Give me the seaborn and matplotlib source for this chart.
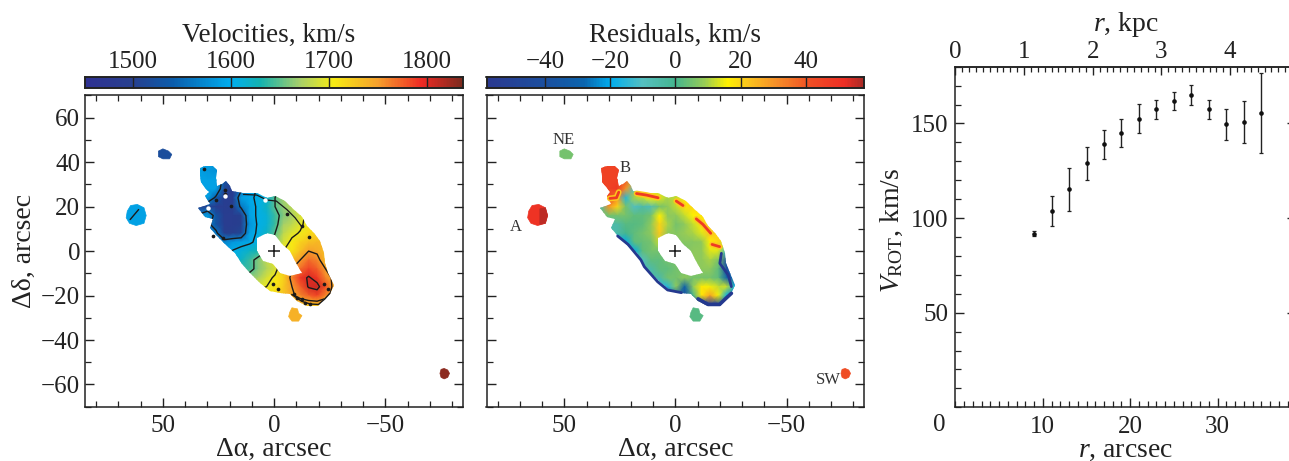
import numpy as np
import pandas as pd
import seaborn as sns
import matplotlib.pyplot as plt
from matplotlib.colors import LinearSegmentedColormap
from matplotlib.patches import PathPatch
from matplotlib.path import Path
from matplotlib.ticker import FixedLocator, MultipleLocator, NullFormatter
from matplotlib.transforms import Affine2D

# rotation curve
r_arcsec = [9, 11, 13, 15, 17, 19, 21, 23, 25, 27, 29, 31, 33, 35]
v_rot = [91.7, 103.7, 115.2, 129, 139, 144.8, 152.6, 157.5, 161.7, 165, 157.5, 149.6, 150.6, 155.4]
v_low = [90.4, 96, 103.7, 120, 131.2, 137.4, 144.8, 152.6, 157, 159.8, 152.6, 141.4, 139.5, 134.2]
v_high = [93, 111.5, 126.5, 137.6, 146.7, 152.4, 160.3, 162.4, 166.5, 170.2, 162.4, 157.7, 161.9, 176.5]

# grid nodes of the two maps, arcsec
grid_x = [37.5, 33.7, 29.9, 26.1, 22.3, 18.5, 14.8, 11, 7.2, 3.4, -0.4, -4.2, -8, -11.7, -15.5, -19.3, -23.1, -26.9]
grid_y = [40, 36, 32, 28, 24, 20, 16, 12, 8, 4, 0, -4, -8, -12, -16, -20, -24, -28]

velocity = [
    [1590, 1590, 1590, 1585, 1560, 1520, 1560, 1600, 1603, 1612, 1640, 1660, 1680, 1700, 1710, 1720, 1730, 1740],
    [1590, 1590, 1585, 1580, 1550, 1510, 1560, 1596, 1603, 1612, 1640, 1660, 1680, 1700, 1710, 1720, 1730, 1740],
    [1590, 1590, 1590, 1590, 1530, 1500, 1550, 1590, 1603, 1612, 1640, 1660, 1680, 1700, 1710, 1720, 1730, 1740],
    [1590, 1590, 1590, 1590, 1510, 1490, 1540, 1590, 1603, 1612, 1640, 1660, 1680, 1700, 1710, 1720, 1730, 1740],
    [1560, 1560, 1590, 1540, 1490, 1490, 1590, 1596, 1604, 1612, 1650, 1670, 1680, 1700, 1710, 1720, 1730, 1740],
    [1500, 1500, 1510, 1490, 1490, 1500, 1560, 1590, 1604, 1620, 1650, 1665, 1680, 1700, 1710, 1720, 1730, 1740],
    [1560, 1560, 1590, 1530, 1490, 1490, 1500, 1590, 1604, 1612, 1640, 1660, 1670, 1690, 1710, 1720, 1730, 1740],
    [1560, 1560, 1560, 1530, 1490, 1490, 1500, 1580, 1604, 1612, 1640, 1670, 1680, 1695, 1710, 1720, 1730, 1740],
    [1570, 1570, 1570, 1560, 1500, 1500, 1510, 1590, 1604, 1620, 1650, 1680, 1695, 1702, 1715, 1720, 1730, 1740],
    [1580, 1580, 1580, 1570, 1570, 1585, 1590, 1595, 1608, 1630, 1660, 1690, 1705, 1720, 1730, 1735, 1740, 1740],
    [1590, 1590, 1590, 1590, 1590, 1602, 1610, 1620, 1630, 1650, 1680, 1700, 1710, 1730, 1750, 1745, 1730, 1730],
    [1600, 1600, 1600, 1600, 1600, 1610, 1620, 1640, 1660, 1680, 1700, 1720, 1735, 1750, 1770, 1760, 1730, 1730],
    [1610, 1610, 1610, 1610, 1620, 1630, 1640, 1640, 1660, 1675, 1690, 1725, 1750, 1770, 1785, 1775, 1750, 1740],
    [1630, 1630, 1630, 1630, 1640, 1650, 1660, 1665, 1670, 1690, 1705, 1720, 1760, 1790, 1803, 1790, 1760, 1745],
    [1650, 1650, 1650, 1650, 1660, 1670, 1680, 1690, 1695, 1700, 1710, 1725, 1750, 1775, 1803, 1808, 1780, 1740],
    [1670, 1670, 1670, 1670, 1680, 1690, 1700, 1705, 1710, 1712, 1715, 1730, 1745, 1760, 1775, 1785, 1760, 1740],
    [1690, 1690, 1690, 1690, 1700, 1705, 1710, 1715, 1720, 1720, 1720, 1722, 1720, 1730, 1730, 1730, 1730, 1730],
    [1700, 1700, 1700, 1700, 1705, 1710, 1715, 1720, 1720, 1720, 1720, 1720, 1720, 1725, 1725, 1725, 1725, 1725],
]

residual = [
    [45, 45, 45, 45, 45, 10, 10, 10, 10, 10, 10, 10, 10, 10, 10, 10, 10, 10],
    [45, 45, 45, 45, 45, 15, 10, 10, 10, 10, 10, 10, 10, 10, 10, 10, 10, 10],
    [45, 45, 45, 45, 40, 15, 0, 10, 10, 10, 10, 10, 10, 10, 10, 10, 10, 10],
    [45, 45, 45, 48, 30, -10, 12, 12, 12, 12, 12, 12, 12, 12, 12, 12, 12, 12],
    [30, 30, 45, 30, -15, 10, 12, 16, 14, 10, 12, 18, 18, 18, 18, 18, 18, 18],
    [-5, -5, 30, 20, 5, -10, -5, -8, 5, 8, 12, 18, 20, 20, 20, 20, 20, 20],
    [5, 5, 5, 5, 5, 3, 3, 5, 16, 8, 8, 12, 16, 18, 20, 20, 20, 20],
    [-5, -5, -5, -5, 2, 2, 3, 8, 20, 10, 5, 8, 12, 17, 22, 22, 22, 22],
    [-5, -5, -5, -5, 0, 3, 5, 8, 22, 8, 7, 9, 10, 14, 22, 20, 20, 20],
    [-20, -20, -20, -20, -20, 3, 4, 5, 12, 7, 7, 7, 7, 8, 16, 20, 12, 12],
    [-20, -20, -20, -20, -20, -20, 3, 5, 5, 5, 5, 5, 8, 8, 14, 14, -15, -15],
    [-10, -10, -10, -10, -10, -10, -10, 3, 3, 5, 5, 5, 8, 8, 10, 6, -40, -40],
    [-5, -5, -5, -5, -5, -5, -5, -5, 3, 3, 5, 5, 8, 8, 8, 3, -40, -40],
    [-5, -5, -5, -5, -5, -5, -5, -5, -5, 5, 5, 8, 5, 5, 5, 3, -30, -30],
    [-15, -15, -15, -15, -15, -15, -15, -15, -15, -15, 8, -30, 8, 17, 15, 12, 12, -20],
    [-30, -30, -30, -30, -30, -30, -30, -30, -30, -30, -30, -40, 0, 18, 28, 15, -20, -30],
    [-45, -45, -45, -45, -45, -45, -45, -45, -45, -45, -45, -45, -45, -45, -50, -45, -45, -30],
    [-45, -45, -45, -45, -45, -45, -45, -45, -45, -45, -45, -45, -45, -45, -50, -45, -45, -45],
]

# traced outlines, arcsec
body_x = [33.2, 33.5, 31, 27.3, 25.5, 26.1, 25.5, 23.5, 21.6, 19.8, 19, 13.8, 7.8, 3.3, -0.4, -4.9, -7.9, -12.4,
          -14.7, -17.7, -20.7, -22.2, -22.9, -24.4, -27, -25.2, -22.2, -19.9, -14.7, -10.2, -7.2, -2.7, 1.8, 6.3,
          10.8, 14.5, 17.5, 21.3, 25.8, 28.8, 27.3, 31, 34, 28.8, 31, 29.5, 31, 33]
body_y = [34, 37.5, 38.5, 38.2, 36.4, 33, 29.2, 30, 31.5, 29.2, 27, 26.2, 26.2, 24, 24.7, 22.5, 19.5, 15.4,
          11.3, 8.3, 4.5, -0.7, -5.2, -9.7, -15.4, -19.5, -21.7, -24.7, -24.7, -22.5, -19.5, -18.7, -18, -14.2,
          -9.7, -6, -0.7, 2.3, 6.8, 10.5, 14.3, 15.4, 19.5, 21, 24.7, 26.5, 28.5, 31]
hole_x = [7.8, 3.3, -0.4, -3.4, -7.2, -9.4, -12.4, -7.2, -2.7, 0.3, 4.8, 7.8]
hole_y = [6, 8.3, 7.1, 3, 0, -4.5, -10, -11.2, -9.7, -6, -4.5, 0]

blob_a_x = [66, 64.5, 61.5, 58.5, 57.5, 58.5, 62, 65, 66.5]
blob_a_y = [18, 20.5, 21, 19.5, 16, 12.5, 11.5, 12.5, 15]
blob_a_dark_x = [61, 58.5, 57.5, 58.5, 61]
blob_a_dark_y = [19, 19.5, 16, 12.5, 12]
blob_ne_x = [52, 50, 47.5, 46, 47, 50, 52]
blob_ne_y = [45, 46, 45, 43.5, 41.5, 41.5, 42.5]
blob_low_x = [-8, -10.5, -11, -12.5, -11, -8, -6.5, -7]
blob_low_y = [-25.5, -26, -28, -29, -31.5, -31.5, -29.5, -27.5]
blob_sw_x = [-74.5, -75, -76.4, -78, -78.8, -78, -76.4, -75]
blob_sw_y = [-55, -53.2, -52.8, -53.5, -55, -56.8, -57.5, -56.8]

# values of the detached blobs: velocity map, residual map
blob_vel = [1590, 1520, 1740, 1830]
blob_res = [50, 5, 2, 42]
blob_a_dark_res = 56

# black specks along the rim of the velocity map
speck_x = [-22.2, -24.4, -16.2, -12.4, -8.7, -10.2, -13.9, -1.9, 0.3, -15.7, 22.8, 27.3, 19.5, 22, 22, 26, 31.7, -12.4, -5.7]
speck_y = [-15, -17.2, -24, -21.7, -19.5, -21, -23.2, -17.2, -15, 6.5, 6, 6.8, 20.5, 27.7, 25.5, 23.2, 37, 11.3, 16.9]
white_x = [4, 29.8, 22]
white_y = [23, 19.5, 25]

# ragged black contour pieces on the rim of the velocity map
edge_low_x = [-7.9, -12.4, -16.2, -19.9, -22.8, -25]
edge_low_y = [-19.5, -22.6, -23.8, -24, -21.5, -19]
edge_top_x = [13.8, 7.8, 3.3, -1, -5.7, -9.4, -12.4]
edge_top_y = [25.5, 25.2, 23, 22.5, 18.7, 15, 11]

# dark blue rims of the residual map
rim_sw_x = [26, 21.3, 15.5, 14, 8, 3.5, -2.7]
rim_sw_y = [6.8, 3, -4, -7, -13.8, -17.5, -18.7]
rim_se_x = [-20.7, -20, -23.8, -25.2]
rim_se_y = [-1, -5.5, -10.8, -16]
rim_low_x = [-10.2, -14.7, -19.9, -22.5, -25.2]
rim_low_y = [-21.5, -24, -24, -21.5, -19]

# red streaks along the northern rim of the residual map
streak_1_x = [17.5, 13, 7.8]
streak_1_y = [25.9, 25.2, 24]
streak_2_x = [-0.4, -3.4]
streak_2_y = [22.5, 20.5]
streak_3_x = [-9.4, -12.4, -15.9]
streak_3_y = [14.5, 12, 8]
streak_4_x = [-16.5, -19.9]
streak_4_y = [3, 2]
streak_5_x = [29.5, 26.5, 25.5]
streak_5_y = [23.7, 24, 26.5]

vel_ticks = [1500, 1600, 1700, 1800]
res_ticks = [-40, -20, 0, 20, 40]
res_labels = ['−40', '−20', '0', '20', '40']

vel_colors = [(1451, '#2f3192'), (1500, '#27408f'), (1540, '#0b5cab'), (1600, '#00aeef'), (1630, '#13b2b0'),
              (1670, '#a6d06a'), (1705, '#f7ec13'), (1750, '#f6a02c'), (1795, '#ee2a24'), (1837, '#7b2a1e')]
res_colors = [(-58, '#2b3990'), (-40, '#1b4f9f'), (-28, '#0b65ae'), (-20, '#00aeef'), (-10, '#55bfc0'),
              (0, '#44b58f'), (9, '#98cc55'), (16, '#fff200'), (22, '#fcc81c'), (31, '#f68f28'),
              (42, '#ef4c24'), (52, '#ee2e24'), (58, '#a82a26')]


def make_cmap(name, stops):
    lo, hi = stops[0][0], stops[-1][0]
    return LinearSegmentedColormap.from_list(name, [((v - lo) / (hi - lo), c) for v, c in stops])


sns.set_theme(style='ticks')
plt.rcParams['font.family'] = ['Liberation Serif', 'DejaVu Serif']
plt.rcParams['mathtext.fontset'] = 'custom'
plt.rcParams['mathtext.rm'] = 'Liberation Serif'
plt.rcParams['mathtext.it'] = 'Liberation Serif:italic'
plt.rcParams['font.size'] = 18
plt.rcParams['text.color'] = '#222222'
plt.rcParams['axes.labelcolor'] = '#222222'
plt.rcParams['xtick.color'] = '#222222'
plt.rcParams['ytick.color'] = '#222222'

W, H = 1289, 461
fig = plt.figure(figsize=(W / 100, H / 100), dpi=100, facecolor='white')


def add_axes_px(x0, y0, x1, y1):
    # pixel box measured from the top left of the picture
    return fig.add_axes([x0 / W, 1 - y1 / H, (x1 - x0) / W, (y1 - y0) / H])


def style_ticks(ax, major=9, minor=6, size=18):
    ax.tick_params(which='major', direction='in', length=major * 0.72, width=1.0, labelsize=size)
    ax.tick_params(which='minor', direction='in', length=minor * 0.72, width=0.9)


def draw_line(ax, xs, ys, color, lw):
    df = pd.DataFrame({'x': xs, 'y': ys})
    sns.lineplot(data=df, x='x', y='y', ax=ax, sort=False, estimator=None, color=color, lw=lw, zorder=3)


def draw_map(ax, cax, field, stops, ticks, labels, title, title_x):
    vmin, vmax = stops[0][0], stops[-1][0]
    cmap = make_cmap(title, stops)
    sns.heatmap(np.array(field, dtype=float), ax=ax, cbar_ax=cax, cmap=cmap, vmin=vmin, vmax=vmax,
                xticklabels=False, yticklabels=False, shading='gouraud',
                cbar_kws={'orientation': 'horizontal'})
    mesh = ax.collections[0]
    step_x = (grid_x[-1] - grid_x[0]) / (len(grid_x) - 1)
    step_y = (grid_y[-1] - grid_y[0]) / (len(grid_y) - 1)
    mesh.set_transform(Affine2D().scale(step_x, step_y).translate(grid_x[0], grid_y[0]) + ax.transData)
    ax.set_xlim(85, -85)
    ax.set_ylim(-70, 70)

    verts = list(zip(body_x, body_y)) + [(body_x[0], body_y[0])]
    verts += list(zip(hole_x[::-1], hole_y[::-1])) + [(hole_x[-1], hole_y[-1])]
    codes = [Path.MOVETO] + [Path.LINETO] * len(body_x) + [Path.MOVETO] + [Path.LINETO] * len(hole_x)
    body = PathPatch(Path(verts, codes), transform=ax.transData, facecolor='none', edgecolor='none')
    ax.add_patch(body)
    mesh.set_clip_path(body)

    for s in ax.spines.values():
        s.set_visible(True)
        s.set_linewidth(1.1)
        s.set_color('#222222')
    ax.xaxis.set_major_locator(FixedLocator([50, 0, -50]))
    ax.xaxis.set_major_formatter(plt.FixedFormatter(['50', '0', '−50']))
    ax.xaxis.set_minor_locator(MultipleLocator(10))
    ax.yaxis.set_major_locator(MultipleLocator(20))
    ax.yaxis.set_minor_locator(MultipleLocator(10))
    ax.tick_params(which='both', top=True, right=True, bottom=True, left=True)
    style_ticks(ax)
    ax.tick_params(axis='x', which='major', pad=6)
    ax.set_xlabel('Δα, arcsec', fontsize=20, labelpad=0)

    cax.xaxis.set_ticks_position('top')
    cax.xaxis.set_label_position('top')
    cax.set_xticks(ticks)
    cax.set_xticklabels(labels)
    cax.set_axisbelow(False)
    cax.tick_params(axis='x', direction='in', length=8, width=1.0, labelsize=18, pad=3, color='#222222')
    cax.tick_params(axis='x', which='minor', length=0)
    cax.set_xlabel(title, fontsize=19.5, labelpad=7)
    cax.xaxis.label.set_x(title_x)
    for s in cax.spines.values():
        s.set_visible(True)
        s.set_linewidth(1.2)
        s.set_color('#222222')
    return cmap, vmin, vmax


def fill_blob(ax, xs, ys, value, cmap, vmin, vmax):
    ax.fill(xs, ys, color=cmap((value - vmin) / (vmax - vmin)), lw=0.5, zorder=3)


# velocity map
ax1 = add_axes_px(85, 95.5, 463.3, 406.7)
cax1 = add_axes_px(85, 77.3, 463.3, 88.3)
cmap1, lo1, hi1 = draw_map(ax1, cax1, velocity, vel_colors, vel_ticks, [str(t) for t in vel_ticks],
                           'Velocities, km/s', 0.485)
body_clip = ax1.collections[0].get_clip_path()
cont = ax1.contour(grid_x, grid_y, np.array(velocity, dtype=float), levels=[1550, 1600, 1650, 1700, 1750, 1800],
                   colors='#1a1a1a', linewidths=1.0, zorder=2)
cont.set_clip_path(body_clip)
draw_line(ax1, edge_low_x, edge_low_y, '#1a1a1a', 1.0)
draw_line(ax1, edge_top_x, edge_top_y, '#1a1a1a', 0.9)
sns.scatterplot(x=speck_x, y=speck_y, ax=ax1, s=7, color='#1a1a1a', linewidth=0, zorder=4, legend=False)
sns.scatterplot(x=white_x, y=white_y, ax=ax1, s=10, color='white', linewidth=0, zorder=4, legend=False)
for bx, by, val in zip([blob_a_x, blob_ne_x, blob_low_x, blob_sw_x], [blob_a_y, blob_ne_y, blob_low_y, blob_sw_y], blob_vel):
    fill_blob(ax1, bx, by, val, cmap1, lo1, hi1)
ax1.plot([64.7, 60.9], [14.2, 18.7], color='#1a1a1a', lw=1.0, zorder=4)
ax1.plot([0], [0], marker='+', ms=9, mew=1.1, color='#1a1a1a', zorder=5)
ax1.set_yticks([60, 40, 20, 0, -20, -40, -60])
ax1.set_yticklabels(['60', '40', '20', '0', '−20', '−40', '−60'])
ax1.set_ylabel('Δδ, arcsec', fontsize=20, labelpad=3)

# residual map
ax2 = add_axes_px(486.5, 95.5, 864.3, 406.7)
cax2 = add_axes_px(486.5, 77.3, 864.3, 88.3)
cmap2, lo2, hi2 = draw_map(ax2, cax2, residual, res_colors, res_ticks, res_labels, 'Residuals, km/s', 0.5)
draw_line(ax2, rim_sw_x, rim_sw_y, '#24398f', 2.0)
draw_line(ax2, rim_se_x, rim_se_y, '#24398f', 2.0)
draw_line(ax2, rim_low_x, rim_low_y, '#24398f', 2.6)
for sx, sy in zip([streak_1_x, streak_2_x, streak_3_x, streak_4_x, streak_5_x],
                  [streak_1_y, streak_2_y, streak_3_y, streak_4_y, streak_5_y]):
    draw_line(ax2, sx, sy, '#fcc81c', 4.2)
    draw_line(ax2, sx, sy, '#ee3a24', 2.0)
for bx, by, val in zip([blob_a_x, blob_ne_x, blob_low_x, blob_sw_x], [blob_a_y, blob_ne_y, blob_low_y, blob_sw_y], blob_res):
    fill_blob(ax2, bx, by, val, cmap2, lo2, hi2)
fill_blob(ax2, blob_a_dark_x, blob_a_dark_y, blob_a_dark_res, cmap2, lo2, hi2)
ax2.plot([0], [0], marker='+', ms=9, mew=1.1, color='#1a1a1a', zorder=5)
ax2.set_yticks([60, 40, 20, 0, -20, -40, -60])
ax2.set_yticklabels([])
ax2.set_xlim(85, -85)
ax2.set_ylim(-70, 70)
ax2.set_xlabel('Δα, arcsec', fontsize=20, labelpad=0)
ax2.set_ylabel('')
for txt, tx, ty in [('NE', 50.5, 50), ('B', 22.5, 37.5), ('A', 72, 11), ('SW', -69, -58)]:
    ax2.text(tx, ty, txt, fontsize=12, ha='center', va='center', color='#333333')

# rotation curve
ax3 = add_axes_px(955.4, 66.7, 1296, 407.3)
ax3.errorbar(r_arcsec, v_rot, yerr=[np.subtract(v_rot, v_low), np.subtract(v_high, v_rot)], fmt='none',
             ecolor='#222222', elinewidth=1.0, capsize=1.6, capthick=0.9, zorder=2)
sns.scatterplot(x=r_arcsec, y=v_rot, ax=ax3, s=11, color='#111111', linewidth=0, zorder=3, legend=False)
ax3.set_xlim(0, 38.97)
ax3.set_ylim(0, 180)
ax3.set_xticks([10, 20, 30])
ax3.xaxis.set_minor_locator(MultipleLocator(1))
ax3.set_yticks([50, 100, 150])
ax3.yaxis.set_minor_locator(MultipleLocator(10))
ax3.tick_params(which='both', bottom=True, left=True, right=True, top=False)
style_ticks(ax3)
ax3.tick_params(axis='x', which='major', pad=6)
ax3.tick_params(axis='y', which='major', pad=5)
ax3.set_xlabel('$\\mathit{r}$, arcsec', fontsize=20, labelpad=0)
ax3.set_ylabel('$\\mathit{V}_{\\mathrm{ROT}}$, km/s', fontsize=20, labelpad=4)
ax3.yaxis.label.set_y(0.52)
ax3.text(-1.8, -9.5, '0', fontsize=18, ha='center', va='center')
for s in ax3.spines.values():
    s.set_linewidth(1.1)
    s.set_color('#222222')

# kpc scale along the top, 7.86 arcsec to the kpc
top = ax3.secondary_xaxis('top', functions=(lambda v: v / 7.86, lambda k: k * 7.86))
top.set_xticks([0, 1, 2, 3, 4])
top.xaxis.set_minor_locator(MultipleLocator(0.1))
top.xaxis.set_minor_formatter(NullFormatter())
top.tick_params(which='major', direction='in', length=5.8, width=1.0, labelsize=18, pad=3)
top.tick_params(which='minor', direction='in', length=3.6, width=0.9)
top.set_xlabel('$\\mathit{r}$, kpc', fontsize=20, labelpad=7)
top.spines['top'].set_linewidth(1.1)

fig.savefig('out.png', dpi=100, facecolor='white')
